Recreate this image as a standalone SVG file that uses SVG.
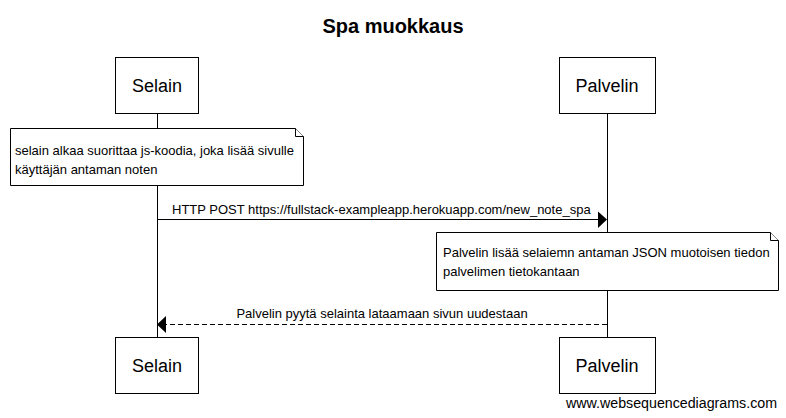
<svg xmlns="http://www.w3.org/2000/svg" width="786" height="418" viewBox="0 0 786 418">
<defs>
<style>
text{font-family:"Liberation Sans",Arial,sans-serif;fill:#000}
.box{fill:#fff;stroke:#000;stroke-width:1}
.life{stroke:#000;stroke-width:1}
.part{font-size:18px;text-anchor:middle}
.note{font-size:13px}
.msg{font-size:13px}
.arr{stroke:#000;stroke-width:1;fill:none}
.head{fill:#000;stroke:none}
</style>
</defs>
<rect width="786" height="418" fill="#fff"/>
<text x="393" y="33" font-size="20" font-weight="bold" text-anchor="middle">Spa muokkaus</text>
<g id="lifelines">
<line class="life" x1="157.5" y1="113" x2="157.5" y2="337"/>
<line class="life" x1="607.5" y1="113" x2="607.5" y2="337"/>
</g>
<g id="selain-top"><rect class="box" x="115.5" y="57.5" width="83" height="56"/><text class="part" x="157" y="92">Selain</text></g>
<g id="palvelin-top"><rect class="box" x="559.5" y="57.5" width="96" height="56"/><text class="part" x="607" y="92">Palvelin</text></g>
<g id="note1">
<path class="box" d="M10.5 128.5H295.5L303.5 136.5V185.5H10.5Z"/>
<path class="box" d="M295.5 128.5V136.5H303.5" fill="none"/>
<text class="note" x="15" y="155">selain alkaa suorittaa js-koodia, joka lisää sivulle</text>
<text class="note" x="15" y="174">käyttäjän antaman noten</text>
</g>
<g id="note2">
<path class="box" d="M436.5 232.5H770.5L778.5 240.5V290.5H436.5Z"/>
<path class="box" d="M770.5 232.5V240.5H778.5" fill="none"/>
<text class="note" x="443" y="257">Palvelin lisää selaiemn antaman JSON muotoisen tiedon</text>
<text class="note" x="443" y="276">palvelimen tietokantaan</text>
</g>
<g id="connectors">
<line class="arr" x1="158" y1="219.5" x2="599" y2="219.5"/>
<path class="head" d="M598 211.5L607 219.5L598 228Z"/>
<text class="msg" x="172" y="214">HTTP POST https://fullstack-exampleapp.herokuapp.com/new_note_spa</text>
<line class="arr" x1="607" y1="324.5" x2="166" y2="324.5" stroke-dasharray="5,3"/>
<path class="head" d="M166 316L157 324.5L166 333Z"/>
<text class="msg" x="382" y="318" text-anchor="middle">Palvelin pyytä selainta lataamaan sivun uudestaan</text>
</g>
<g id="selain-bottom"><rect class="box" x="115.5" y="337.5" width="83" height="56"/><text class="part" x="157" y="372">Selain</text></g>
<g id="palvelin-bottom"><rect class="box" x="559.5" y="337.5" width="96" height="56"/><text class="part" x="607" y="372">Palvelin</text></g>
<text x="566" y="408" font-size="14" textLength="211" lengthAdjust="spacingAndGlyphs">www.websequencediagrams.com</text>
</svg>
